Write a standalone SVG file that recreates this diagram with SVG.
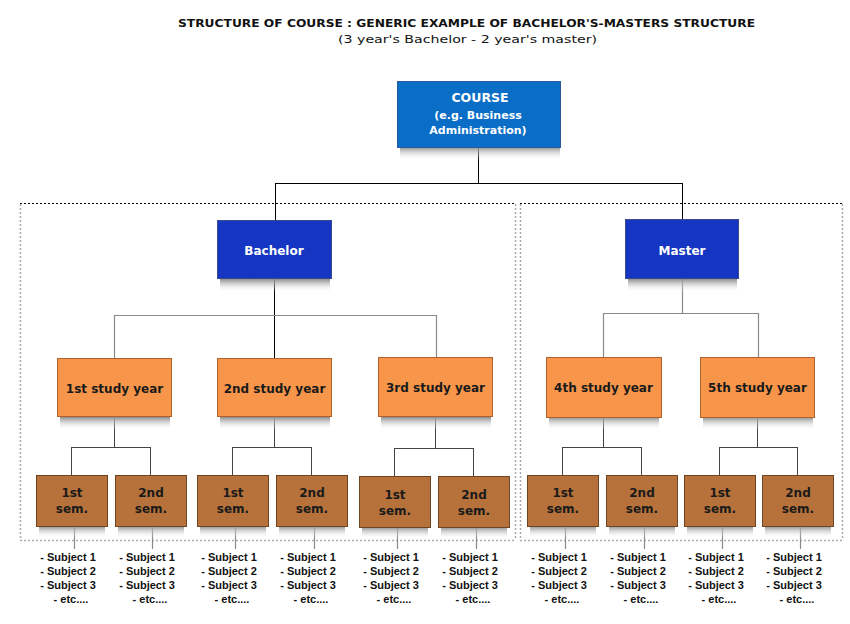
<svg xmlns="http://www.w3.org/2000/svg" width="850" height="624" viewBox="0 0 850 624">
<style>
.title{font-family:"DejaVu Sans",Verdana,sans-serif;font-size:11px;fill:#111;text-anchor:middle}
.wt{font-family:"DejaVu Sans",Verdana,sans-serif;fill:#fff;text-anchor:middle;font-weight:bold}
.dk{font-family:"DejaVu Sans",Verdana,sans-serif;fill:#1a1a1a;text-anchor:middle;font-weight:bold;font-size:12px}
.subj{font-family:"Liberation Sans",Arial,sans-serif;font-weight:bold;font-size:11px;fill:#111;text-anchor:middle}
.course{fill:#0b6ec6;stroke:#2a5a9a;stroke-width:1}
.deg{fill:#1436c2;stroke:#3a4a8a;stroke-width:1}
.year{fill:#f7964b;stroke:#b0602a;stroke-width:1}
.sem{fill:#b7723b;stroke:#6e4522;stroke-width:1}
.shadow{fill:url(#sh)}
.blk{stroke:#000;stroke-width:1;fill:none}
.gry{stroke:#8a8a8a;stroke-width:1.2;fill:none}
.mid{stroke:#444;stroke-width:1;fill:none}
.topdash{stroke:#000;stroke-width:1;stroke-dasharray:2,2;fill:none}
.sidedot{stroke:#aaa;stroke-width:1.5;stroke-dasharray:2,2;fill:none}
</style>
<defs>
<linearGradient id="sh" x1="0" y1="0" x2="0" y2="1">
<stop offset="0" stop-color="#8c8c8c"/>
<stop offset="1" stop-color="#ffffff" stop-opacity="0"/>
</linearGradient>
</defs>
<rect width="850" height="624" fill="#fff"/>
<text class="title" x="466.5" y="27" font-weight="bold" textLength="577" lengthAdjust="spacingAndGlyphs">STRUCTURE OF COURSE : GENERIC EXAMPLE OF BACHELOR'S-MASTERS STRUCTURE</text>
<text class="title" x="467.5" y="43" textLength="259" lengthAdjust="spacingAndGlyphs">(3 year's Bachelor - 2 year's master)</text>

<g id="containers">
<path class="topdash" d="M20 203.5H515.5M520 203.5H843"/>
<path class="sidedot" d="M20.5 204V540M515.5 204V540M520.5 204V540M842.5 204V540M20 540.5H515M520 540.5H843"/>
</g>

<g id="connectors">
<path class="blk" d="M478.5 147V183.5M275.5 183.5H682.5M275.5 183V220M682.5 183V220"/>
<path class="blk" d="M274.5 279V358"/>
<path class="gry" d="M114.5 315.5H436.5M114.5 315V358M436.5 315V358"/>
<path class="gry" d="M682.5 279V313.5M603.5 313.5H758.5M603.5 313V358M758.5 313V358"/>
<path class="mid" d="M114.5 417V447.5M71.5 447.5H150.5M71.5 447V475M150.5 447V475"/>
<path class="mid" d="M274.5 417V447.5M232.5 447.5H311.5M232.5 447V475M311.5 447V475"/>
<path class="mid" d="M435.5 417V448.5M394.5 448.5H473.5M394.5 448V476M473.5 448V476"/>
<path class="mid" d="M603.5 417V447.5M562.5 447.5H641.5M562.5 447V475M641.5 447V475"/>
<path class="mid" d="M757.5 417V447.5M719.5 447.5H797.5M719.5 447V475M797.5 447V475"/>
<path class="gry" d="M74.5 526V549M152.5 526V549M235.5 526V549M314.5 526V549M397.5 527V549M476.5 527V549M565.5 526V549M644.5 526V549M722.5 526V549M800.5 526V549"/>
</g>

<g id="course">
<rect class="shadow" x="400" y="147" width="160" height="13"/>
<rect class="course" x="397.5" y="81.5" width="163" height="66"/>
<text class="wt" x="480" y="102" font-size="12.5" font-weight="normal">COURSE</text>
<text class="wt" x="478" y="119" font-size="11">(e.g. Business</text>
<text class="wt" x="478" y="134" font-size="11">Administration)</text>
</g>

<g id="bachelor">
<rect class="shadow" x="220" y="279" width="110" height="13"/>
<rect class="deg" x="217.5" y="220.5" width="114" height="58"/>
<text class="wt" x="274" y="255" font-size="12">Bachelor</text>
</g>
<g id="master">
<rect class="shadow" x="628" y="279" width="109" height="13"/>
<rect class="deg" x="625.5" y="219.5" width="113" height="59"/>
<text class="wt" x="682" y="255" font-size="12">Master</text>
</g>

<g id="year1">
<rect class="shadow" x="60" y="417" width="110" height="13"/>
<rect class="year" x="57.5" y="358.5" width="114" height="58"/>
<text class="dk" x="114.5" y="393">1st study year</text>
</g>
<g id="year2">
<rect class="shadow" x="220" y="417" width="110" height="13"/>
<rect class="year" x="217.5" y="358.5" width="114" height="58"/>
<text class="dk" x="274.5" y="393">2nd study year</text>
</g>
<g id="year3">
<rect class="shadow" x="381" y="417" width="110" height="13"/>
<rect class="year" x="378.5" y="357.5" width="114" height="59"/>
<text class="dk" x="435.5" y="392">3rd study year</text>
</g>
<g id="year4">
<rect class="shadow" x="549" y="417" width="110" height="13"/>
<rect class="year" x="546.5" y="357.5" width="115" height="60"/>
<text class="dk" x="603.5" y="392">4th study year</text>
</g>
<g id="year5">
<rect class="shadow" x="703" y="417" width="110" height="13"/>
<rect class="year" x="700.5" y="357.5" width="114" height="60"/>
<text class="dk" x="757.5" y="392">5th study year</text>
</g>

<g id="sem-b1-1"><rect class="shadow" x="39" y="526" width="66" height="12"/><rect class="sem" x="36.5" y="475.5" width="71" height="51"/><text class="dk" x="72" y="497">1st</text><text class="dk" x="72" y="513">sem.</text></g>
<g id="sem-b1-2"><rect class="shadow" x="118" y="526" width="66" height="12"/><rect class="sem" x="115.5" y="475.5" width="71" height="51"/><text class="dk" x="151" y="497">2nd</text><text class="dk" x="151" y="513">sem.</text></g>
<g id="sem-b2-1"><rect class="shadow" x="200" y="526" width="66" height="12"/><rect class="sem" x="197.5" y="475.5" width="71" height="51"/><text class="dk" x="233" y="497">1st</text><text class="dk" x="233" y="513">sem.</text></g>
<g id="sem-b2-2"><rect class="shadow" x="279" y="526" width="66" height="12"/><rect class="sem" x="276.5" y="475.5" width="71" height="51"/><text class="dk" x="312" y="497">2nd</text><text class="dk" x="312" y="513">sem.</text></g>
<g id="sem-b3-1"><rect class="shadow" x="362" y="527" width="66" height="12"/><rect class="sem" x="359.5" y="476.5" width="71" height="51"/><text class="dk" x="395" y="499">1st</text><text class="dk" x="395" y="515">sem.</text></g>
<g id="sem-b3-2"><rect class="shadow" x="441" y="527" width="66" height="12"/><rect class="sem" x="438.5" y="476.5" width="71" height="51"/><text class="dk" x="474" y="499">2nd</text><text class="dk" x="474" y="515">sem.</text></g>
<g id="sem-m1-1"><rect class="shadow" x="530" y="526" width="66" height="12"/><rect class="sem" x="527.5" y="475.5" width="71" height="51"/><text class="dk" x="563" y="497">1st</text><text class="dk" x="563" y="513">sem.</text></g>
<g id="sem-m1-2"><rect class="shadow" x="609" y="526" width="66" height="12"/><rect class="sem" x="606.5" y="475.5" width="71" height="51"/><text class="dk" x="642" y="497">2nd</text><text class="dk" x="642" y="513">sem.</text></g>
<g id="sem-m2-1"><rect class="shadow" x="687" y="526" width="66" height="12"/><rect class="sem" x="684.5" y="475.5" width="71" height="51"/><text class="dk" x="720" y="497">1st</text><text class="dk" x="720" y="513">sem.</text></g>
<g id="sem-m2-2"><rect class="shadow" x="765" y="526" width="66" height="12"/><rect class="sem" x="762.5" y="475.5" width="71" height="51"/><text class="dk" x="798" y="497">2nd</text><text class="dk" x="798" y="513">sem.</text></g>

<g id="subjects">
<g class="subj">
<text x="68" y="561">- Subject 1</text><text x="68" y="575">- Subject 2</text><text x="68" y="589">- Subject 3</text><text x="71" y="603">- etc....</text>
<text x="147" y="561">- Subject 1</text><text x="147" y="575">- Subject 2</text><text x="147" y="589">- Subject 3</text><text x="150" y="603">- etc....</text>
<text x="229" y="561">- Subject 1</text><text x="229" y="575">- Subject 2</text><text x="229" y="589">- Subject 3</text><text x="232" y="603">- etc....</text>
<text x="308" y="561">- Subject 1</text><text x="308" y="575">- Subject 2</text><text x="308" y="589">- Subject 3</text><text x="311" y="603">- etc....</text>
<text x="391" y="561">- Subject 1</text><text x="391" y="575">- Subject 2</text><text x="391" y="589">- Subject 3</text><text x="394" y="603">- etc....</text>
<text x="470" y="561">- Subject 1</text><text x="470" y="575">- Subject 2</text><text x="470" y="589">- Subject 3</text><text x="473" y="603">- etc....</text>
<text x="559" y="561">- Subject 1</text><text x="559" y="575">- Subject 2</text><text x="559" y="589">- Subject 3</text><text x="562" y="603">- etc....</text>
<text x="638" y="561">- Subject 1</text><text x="638" y="575">- Subject 2</text><text x="638" y="589">- Subject 3</text><text x="641" y="603">- etc....</text>
<text x="716" y="561">- Subject 1</text><text x="716" y="575">- Subject 2</text><text x="716" y="589">- Subject 3</text><text x="719" y="603">- etc....</text>
<text x="794" y="561">- Subject 1</text><text x="794" y="575">- Subject 2</text><text x="794" y="589">- Subject 3</text><text x="797" y="603">- etc....</text>
</g>
</g>
</svg>
